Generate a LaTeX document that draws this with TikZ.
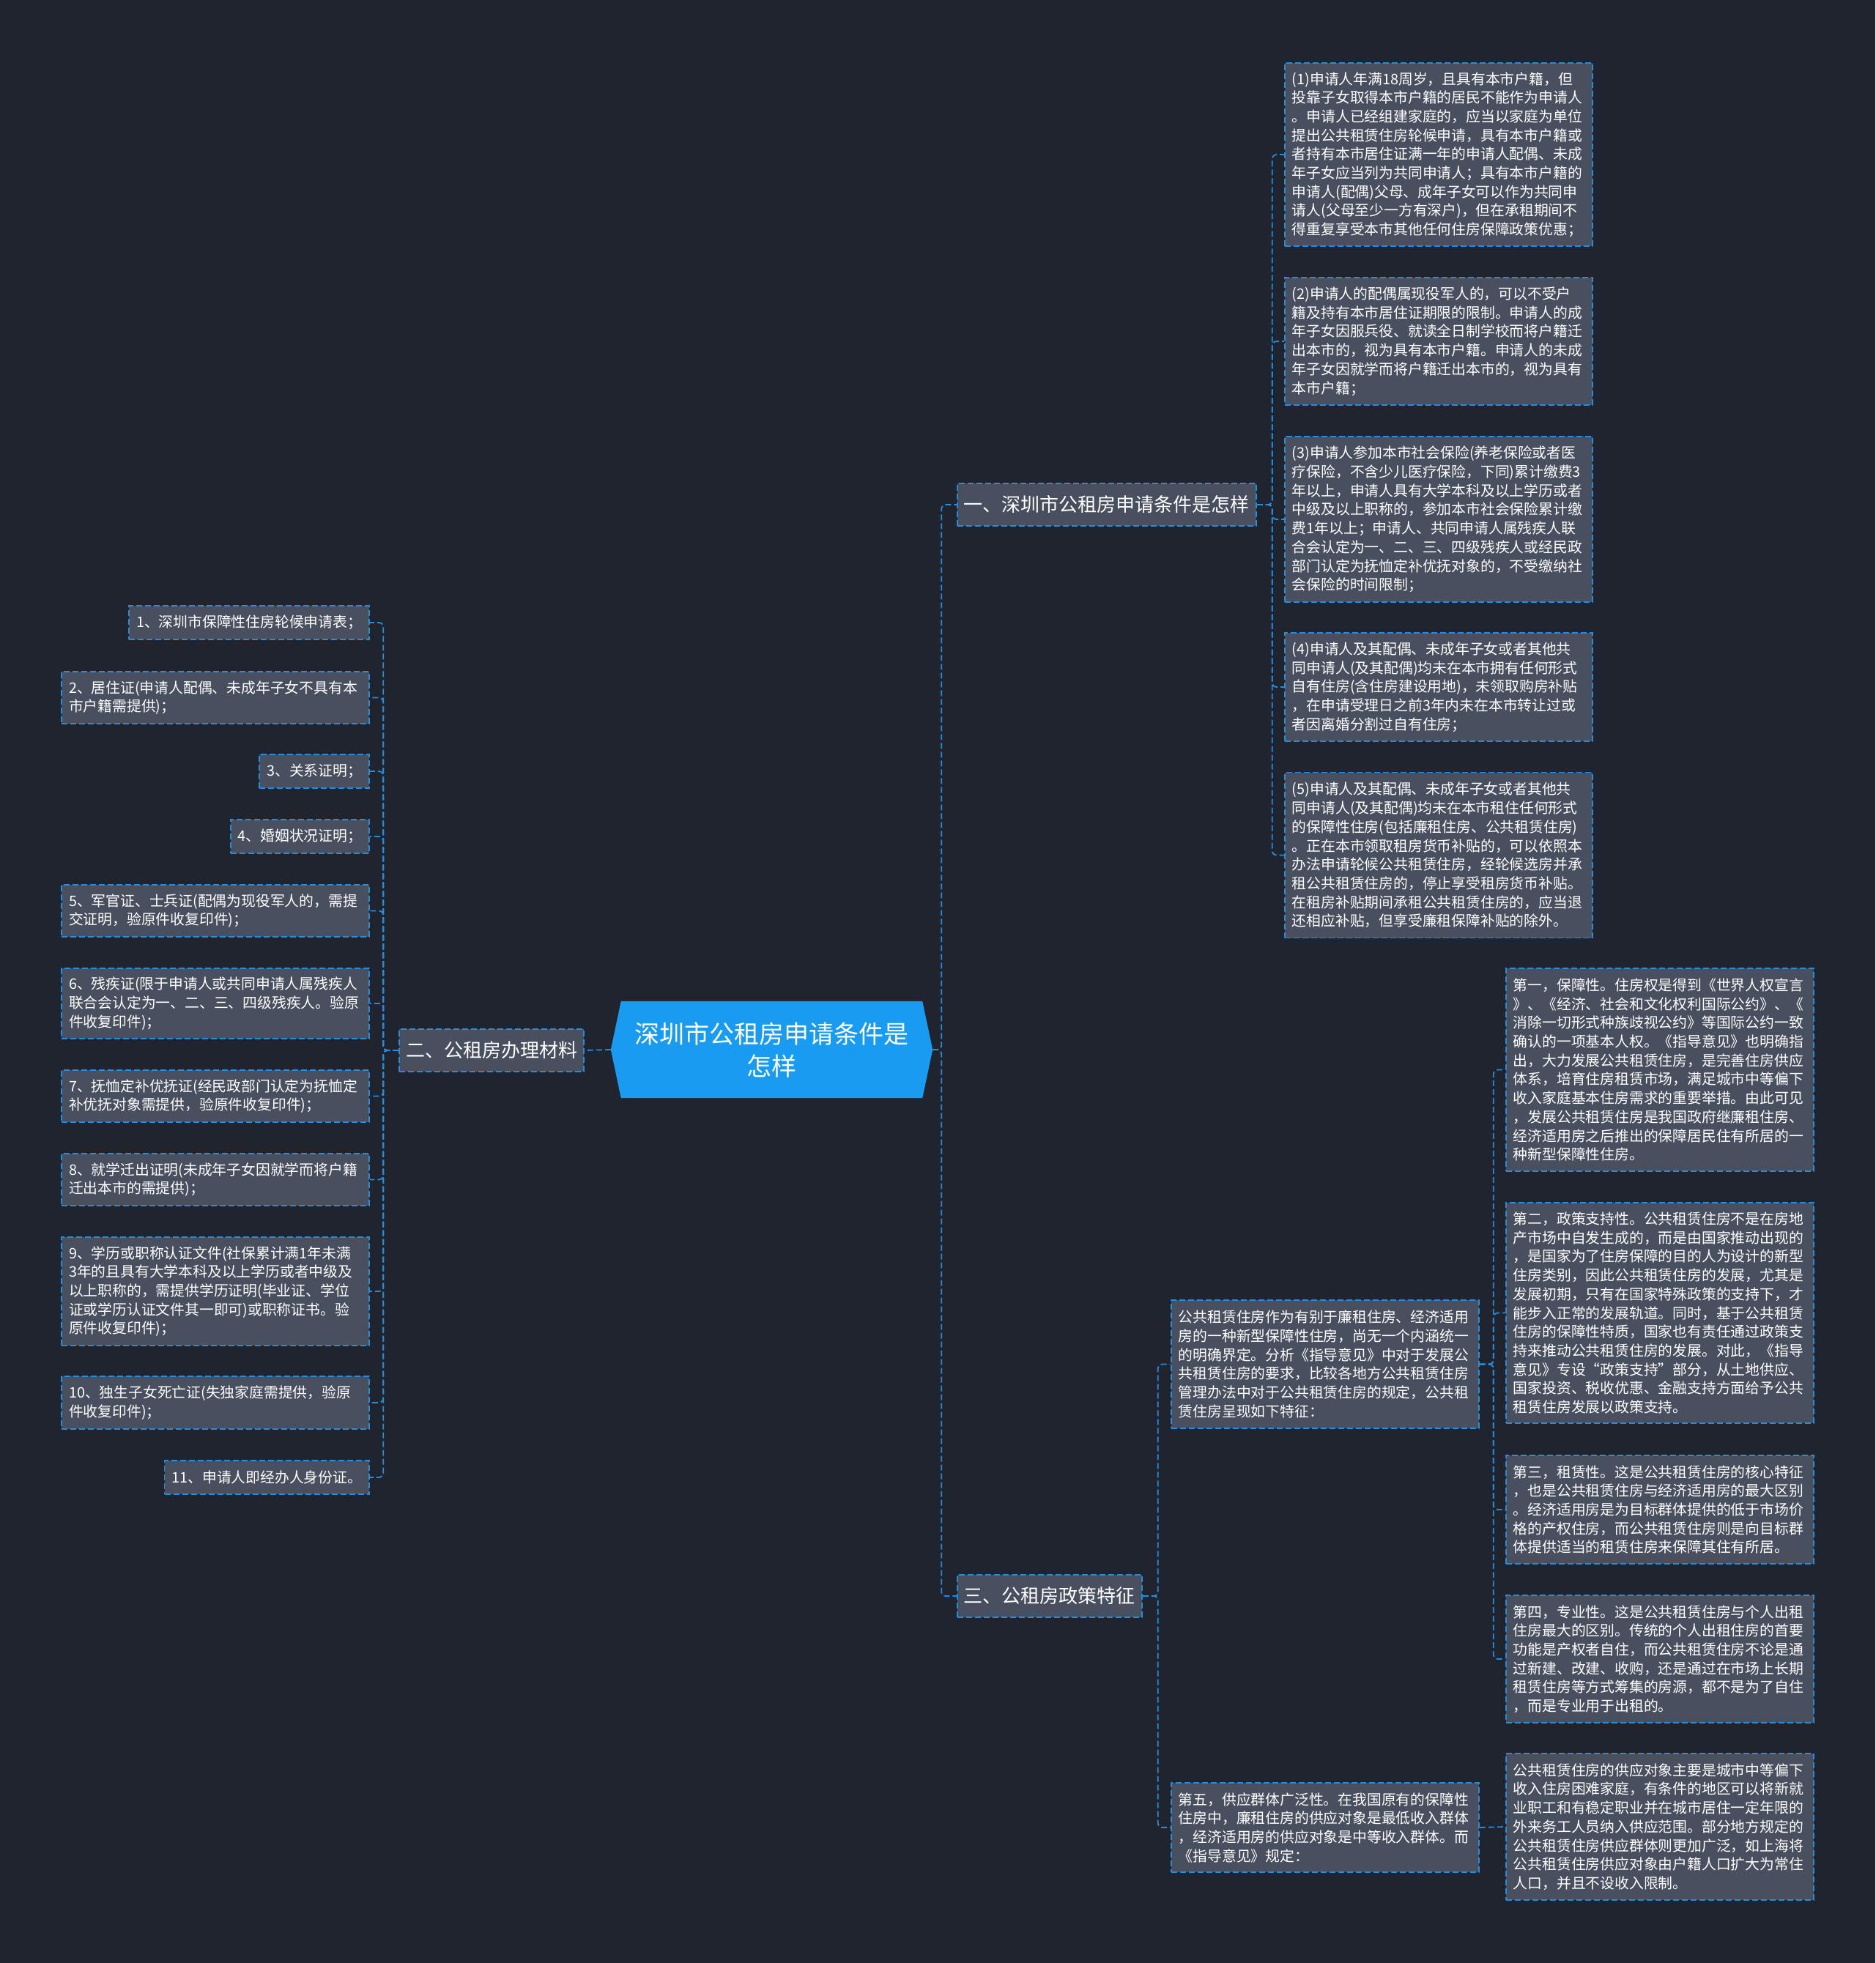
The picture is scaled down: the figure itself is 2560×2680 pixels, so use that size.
\documentclass[tikz,border=0pt]{standalone}
\usepackage{fontspec}
\setmainfont{Noto Sans CJK SC}
\usetikzlibrary{backgrounds}
\definecolor{bgc}{HTML}{20242F}
\definecolor{nodegrey}{HTML}{484F5F}
\definecolor{lineblue}{HTML}{268CDC}
\definecolor{rootblue}{HTML}{189BF0}
\tikzset{
  box/.style={draw=lineblue, fill=nodegrey, dash pattern=on 8pt off 4pt, line width=1.8pt,
    text=white, inner xsep=10pt, inner ysep=4pt, font=\fontsize{19.8}{25.7}\selectfont},
  leaf/.style={box, minimum height=46pt},
  multi/.style={box, text width=400pt, align=left},
  branch/.style={box, font=\fontsize{26}{30}\selectfont, inner xsep=9pt, minimum height=58pt},
  rootnode/.style={text=white, align=center, font=\fontsize{34}{44}\selectfont,
    minimum width=439pt, minimum height=132pt, inner sep=0pt},
  conn/.style={draw=lineblue, line width=1.8pt, dash pattern=on 8pt off 4pt, rounded corners=6pt}
}
\begin{document}
\begin{tikzpicture}[x=1pt,y=-1pt]
\useasboundingbox (0,0) rectangle (2560,2680);

% root
\node[rootnode] (root) at (1053.5,1433) {深圳市公租房申请条件是\\怎样};

% branches
\node[branch, anchor=west] (b1) at (1306,689) {一、深圳市公租房申请条件是怎样};
\node[branch, anchor=east] (b2) at (798,1434) {二、公租房办理材料};
\node[branch, anchor=west] (b3) at (1306,2179) {三、公租房政策特征};

% branch 1 leaves
\node[multi, anchor=west, minimum height=250pt] (r1) at (1753,211) {(1)申请人年满18周岁，且具有本市户籍，但\\投靠子女取得本市户籍的居民不能作为申请人\\。申请人已经组建家庭的，应当以家庭为单位\\提出公共租赁住房轮候申请，具有本市户籍或\\者持有本市居住证满一年的申请人配偶、未成\\年子女应当列为共同申请人；具有本市户籍的\\申请人(配偶)父母、成年子女可以作为共同申\\请人(父母至少一方有深户)，但在承租期间不\\得重复享受本市其他任何住房保障政策优惠；};
\node[multi, anchor=west, minimum height=174pt] (r2) at (1753,466) {(2)申请人的配偶属现役军人的，可以不受户\\籍及持有本市居住证期限的限制。申请人的成\\年子女因服兵役、就读全日制学校而将户籍迁\\出本市的，视为具有本市户籍。申请人的未成\\年子女因就学而将户籍迁出本市的，视为具有\\本市户籍；};
\node[multi, anchor=west, minimum height=226pt] (r3) at (1753,709) {(3)申请人参加本市社会保险(养老保险或者医\\疗保险，不含少儿医疗保险，下同)累计缴费3\\年以上，申请人具有大学本科及以上学历或者\\中级及以上职称的，参加本市社会保险累计缴\\费1年以上；申请人、共同申请人属残疾人联\\合会认定为一、二、三、四级残疾人或经民政\\部门认定为抚恤定补优抚对象的，不受缴纳社\\会保险的时间限制；};
\node[multi, anchor=west, minimum height=148pt] (r4) at (1753,938) {(4)申请人及其配偶、未成年子女或者其他共\\同申请人(及其配偶)均未在本市拥有任何形式\\自有住房(含住房建设用地)，未领取购房补贴\\，在申请受理日之前3年内未在本市转让过或\\者因离婚分割过自有住房；};
\node[multi, anchor=west, minimum height=226pt] (r5) at (1753,1167.5) {(5)申请人及其配偶、未成年子女或者其他共\\同申请人(及其配偶)均未在本市租住任何形式\\的保障性住房(包括廉租住房、公共租赁住房)\\。正在本市领取租房货币补贴的，可以依照本\\办法申请轮候公共租赁住房，经轮候选房并承\\租公共租赁住房的，停止享受租房货币补贴。\\在租房补贴期间承租公共租赁住房的，应当退\\还相应补贴，但享受廉租保障补贴的除外。};

% branch 2 leaves
\node[leaf, anchor=east] (l1) at (505,850) {1、深圳市保障性住房轮候申请表；};
\node[multi, anchor=east, minimum height=71pt] (l2) at (505,952.5) {2、居住证(申请人配偶、未成年子女不具有本\\市户籍需提供)；};
\node[leaf, anchor=east] (l3) at (505,1053) {3、关系证明；};
\node[leaf, anchor=east] (l4) at (505,1142) {4、婚姻状况证明；};
\node[multi, anchor=east, minimum height=71pt] (l5) at (505,1243.5) {5、军官证、士兵证(配偶为现役军人的，需提\\交证明，验原件收复印件)；};
\node[multi, anchor=east, minimum height=96pt] (l6) at (505,1370) {6、残疾证(限于申请人或共同申请人属残疾人\\联合会认定为一、二、三、四级残疾人。验原\\件收复印件)；};
\node[multi, anchor=east, minimum height=71pt] (l7) at (505,1496.5) {7、抚恤定补优抚证(经民政部门认定为抚恤定\\补优抚对象需提供，验原件收复印件)；};
\node[multi, anchor=east, minimum height=71pt] (l8) at (505,1610.5) {8、就学迁出证明(未成年子女因就学而将户籍\\迁出本市的需提供)；};
\node[multi, anchor=east, minimum height=148pt] (l9) at (505,1763) {9、学历或职称认证文件(社保累计满1年未满\\3年的且具有大学本科及以上学历或者中级及\\以上职称的，需提供学历证明(毕业证、学位\\证或学历认证文件其一即可)或职称证书。验\\原件收复印件)；};
\node[multi, anchor=east, minimum height=72pt] (l10) at (505,1915) {10、独生子女死亡证(失独家庭需提供，验原\\件收复印件)；};
\node[leaf, anchor=east] (l11) at (505,2017) {11、申请人即经办人身份证。};

% branch 3
\node[multi, anchor=west, minimum height=175pt] (p) at (1598,1862.5) {公共租赁住房作为有别于廉租住房、经济适用\\房的一种新型保障性住房，尚无一个内涵统一\\的明确界定。分析《指导意见》中对于发展公\\共租赁住房的要求，比较各地方公共租赁住房\\管理办法中对于公共租赁住房的规定，公共租\\赁住房呈现如下特征：};
\node[multi, anchor=west, minimum height=122pt] (f5) at (1598,2495) {第五，供应群体广泛性。在我国原有的保障性\\住房中，廉租住房的供应对象是最低收入群体\\，经济适用房的供应对象是中等收入群体。而\\《指导意见》规定：};

\node[multi, anchor=west, minimum height=277pt] (f1) at (2055,1460.5) {第一，保障性。住房权是得到《世界人权宣言\\》、《经济、社会和文化权利国际公约》、《\\消除一切形式种族歧视公约》等国际公约一致\\确认的一项基本人权。《指导意见》也明确指\\出，大力发展公共租赁住房，是完善住房供应\\体系，培育住房租赁市场，满足城市中等偏下\\收入家庭基本住房需求的重要举措。由此可见\\，发展公共租赁住房是我国政府继廉租住房、\\经济适用房之后推出的保障居民住有所居的一\\种新型保障性住房。};
\node[multi, anchor=west, minimum height=301pt] (f2) at (2055,1792.5) {第二，政策支持性。公共租赁住房不是在房地\\产市场中自发生成的，而是由国家推动出现的\\，是国家为了住房保障的目的人为设计的新型\\住房类别，因此公共租赁住房的发展，尤其是\\发展初期，只有在国家特殊政策的支持下，才\\能步入正常的发展轨道。同时，基于公共租赁\\住房的保障性特质，国家也有责任通过政策支\\持来推动公共租赁住房的发展。对此，《指导\\意见》专设“政策支持”部分，从土地供应、\\国家投资、税收优惠、金融支持方面给予公共\\租赁住房发展以政策支持。};
\node[multi, anchor=west, minimum height=148pt] (f3) at (2055,2061) {第三，租赁性。这是公共租赁住房的核心特征\\，也是公共租赁住房与经济适用房的最大区别\\。经济适用房是为目标群体提供的低于市场价\\格的产权住房，而公共租赁住房则是向目标群\\体提供适当的租赁住房来保障其住有所居。};
\node[multi, anchor=west, minimum height=174pt] (f4) at (2055,2265) {第四，专业性。这是公共租赁住房与个人出租\\住房最大的区别。传统的个人出租住房的首要\\功能是产权者自住，而公共租赁住房不论是通\\过新建、改建、收购，还是通过在市场上长期\\租赁住房等方式筹集的房源，都不是为了自住\\，而是专业用于出租的。};
\node[multi, anchor=west, minimum height=200pt] (f6) at (2055,2494) {公共租赁住房的供应对象主要是城市中等偏下\\收入住房困难家庭，有条件的地区可以将新就\\业职工和有稳定职业并在城市居住一定年限的\\外来务工人员纳入供应范围。部分地方规定的\\公共租赁住房供应群体则更加广泛，如上海将\\公共租赁住房供应对象由户籍人口扩大为常住\\人口，并且不设收入限制。};

\begin{pgfonlayer}{background}
  \fill[bgc] (0,0) rectangle (2560,2680);
  \fill[rootblue] ([xshift=14pt]root.north west) -- ([xshift=-14pt]root.north east) -- (root.east)
    -- ([xshift=-14pt]root.south east) -- ([xshift=14pt]root.south west) -- (root.west) -- cycle;
  % root connectors
  \draw[conn] (root.east) -- ++(12,0) |- (b1.west);
  \draw[conn] (root.east) -- ++(12,0) |- (b3.west);
  \draw[conn] (root.west) -- (b2.east);
  % branch 1
  \foreach \n in {r1,r2,r3,r4,r5} \draw[conn] (b1.east) -- ++(21,0) |- (\n.west);
  % branch 2
  \foreach \n in {l1,l2,l3,l4,l5,l6,l7,l8,l9,l10,l11} \draw[conn] (b2.west) -- ++(-21,0) |- (\n.east);
  % branch 3
  \foreach \n in {p,f5} \draw[conn] (b3.east) -- ++(21,0) |- (\n.west);
  \foreach \n in {f1,f2,f3,f4} \draw[conn] (p.east) -- ++(19,0) |- (\n.west);
  \draw[conn] (f5.east) -- (f6.west);
\end{pgfonlayer}
\end{tikzpicture}
\end{document}
